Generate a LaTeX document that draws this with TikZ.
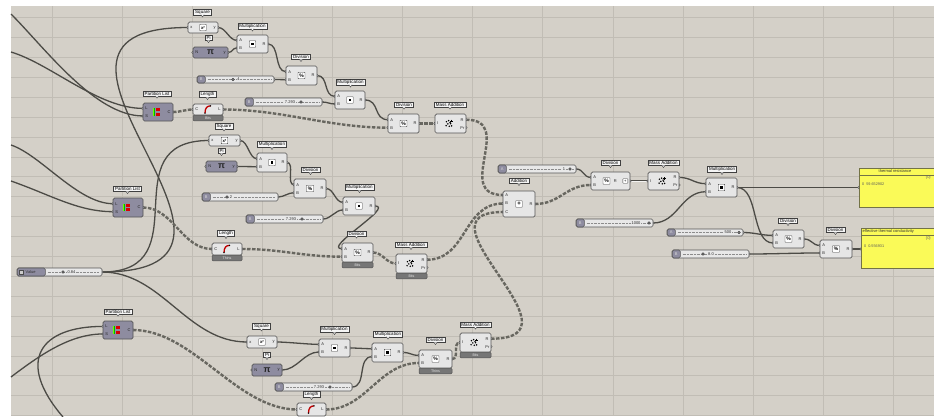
\documentclass[tikz,border=0pt]{standalone}
\usepackage{fontspec}
\setmainfont{Liberation Sans}
\usetikzlibrary{calc}
\pgfdeclarelayer{bglayer}
\pgfdeclarelayer{wirelayer}
\pgfsetlayers{bglayer,wirelayer,main}

\definecolor{bgc}{RGB}{212,208,200}
\definecolor{gridc}{RGB}{193,189,181}
\definecolor{compf}{RGB}{230,230,230}
\definecolor{compd}{RGB}{85,85,85}
\definecolor{darkf}{RGB}{142,140,160}
\definecolor{wirec}{RGB}{76,75,70}
\definecolor{lwirec}{RGB}{104,103,96}
\definecolor{barf}{RGB}{118,118,118}
\definecolor{panf}{RGB}{250,250,88}
\definecolor{pand}{RGB}{115,115,70}

\tikzset{
  comp/.style={draw=compd, fill=compf, rounded corners=1.5pt, line width=0.7pt, inner sep=0pt},
  dcomp/.style={draw=compd, fill=darkf, rounded corners=1.5pt, line width=0.7pt, inner sep=0pt},
  ptxt/.style={font=\fontsize{4}{4}\selectfont, inner sep=0pt, text=black!85},
  lbl/.style={draw=black!75, fill=white!96!black, line width=0.45pt, inner xsep=1.6pt, inner ysep=0.7pt, font=\fontsize{4.5}{4.5}\selectfont},
  lblptr/.style={draw=black!75, fill=white!96!black, line width=0.4pt},
  grip/.style={draw=compd, fill=compf, line width=0.5pt},
  icbox/.style={draw=black!75, fill=white, minimum width=6.5pt, minimum height=6.5pt, inner sep=0pt, line width=0.4pt, rounded corners=0.5pt},
  bar/.style={draw=compd, fill=barf, rounded corners=1pt, inner sep=0pt, line width=0.5pt, font=\fontsize{3.6}{3.6}\selectfont, text=white!90!black},
  slbody/.style={draw=compd, fill=white!91!black, rounded corners=1.5pt, line width=0.6pt, inner sep=0pt},
  slcap/.style={draw=compd, fill=darkf, rounded corners=1.5pt, line width=0.6pt, inner sep=0pt, minimum width=8pt, font=\fontsize{4}{4}\selectfont, text=white!85!black},
  sltrack/.style={draw=black!45, line width=0.35pt, dash pattern=on 0.7pt off 0.7pt},
  slknob/.style={circle, draw=black!80, fill=black!50, minimum size=2.8pt, inner sep=0pt, line width=0.4pt},
  wire/.style={draw=wirec, line width=1.3pt},
  lwire/.style={draw=lwirec, line width=2.4pt, dash pattern=on 3.5pt off 1.5pt},
  dwire/.style={draw=wirec, line width=0.6pt, double=white!75!bgc, double distance=0.9pt},
  gridl/.style={draw=gridc, line width=0.6pt},
  panel/.style={draw=pand, fill=panf, line width=0.7pt, inner sep=0pt},
  gh/.style={to path={.. controls +(#1,0) and +(-#1,0) .. (\tikztotarget)}},
}

% ---------- icons ----------
\newcommand\icmul[1]{\node[icbox] (#1-ic) at (#1.center) {};
  \fill[black] ($(#1.center)+(-1.4,-1.4)$) rectangle ($(#1.center)+(1.4,1.4)$);}
\newcommand\icdiv[1]{\node[icbox, minimum width=7pt, font=\fontsize{5}{5}\selectfont\bfseries] (#1-ic) at (#1.center) {\%};}
\newcommand\icdivx[1]{\node[icbox, minimum width=7pt, font=\fontsize{5}{5}\selectfont\bfseries] (#1-ic) at ($(#1.center)+(-4,0)$) {\%};
  \node[ptxt] (#1-tR2) at ($(#1.center)+(4.8,0)$) {R};
  \node[icbox, minimum width=5pt, minimum height=4.5pt, font=\fontsize{4}{4}\selectfont] (#1-x) at ($(#1.east)+(-5,0)$) {+};}
\newcommand\icsq[1]{\node[icbox, font=\fontsize{4.3}{4.3}\selectfont\bfseries] (#1-ic) at (#1.center) {x²};}
\newcommand\icpi[1]{\node[inner sep=0pt, font=\fontsize{9}{9}\selectfont\bfseries, text=black!85] (#1-ic) at (#1.center) {π};}
\newcommand\icadd[1]{\node[icbox, font=\fontsize{6}{6}\selectfont\bfseries] (#1-ic) at (#1.center) {+};}
\newcommand\icpart[1]{\coordinate (#1-ic) at ($(#1.center)+(-1,0)$);
  \fill[green!70!black] ($(#1-ic)+(-4.5,-3.8)$) rectangle ($(#1-ic)+(-1.8,3.8)$);
  \fill[green!60!yellow] ($(#1-ic)+(-4.5,-3.8)$) rectangle ($(#1-ic)+(-3.4,3.8)$);
  \fill[red!85!black] ($(#1-ic)+(-1,-3.8)$) rectangle ($(#1-ic)+(2.6,-0.6)$);
  \fill[red!85!black] ($(#1-ic)+(-1,0.6)$) rectangle ($(#1-ic)+(2.6,3.8)$);}
\newcommand\iclen[1]{\coordinate (#1-ic) at ($(#1.center)+(-0.5,0)$);
  \draw[red!75!black, line width=1.3pt] ($(#1-ic)+(-2.5,3.6)$) .. controls ($(#1-ic)+(-2.5,-2)$) and ($(#1-ic)+(0,-3.6)$) .. ($(#1-ic)+(3,-3.6)$);
  \fill[black] ($(#1-ic)+(-2.5,3.6)$) circle (0.8pt) ($(#1-ic)+(3,-3.6)$) circle (0.8pt);}
\newcommand\icmass[1]{\coordinate (#1-ic) at ($(#1.center)+(-1.5,0)$);
  \foreach \dx/\dy in {-2.6/-1.8, -0.4/-2.9, -1.2/0.4, 1.6/0.2, -2.9/2.2, 0.3/2.8, 2.6/2.4, 1.0/-0.9}{\fill[black] ($(#1-ic)+(\dx,\dy)$) circle (0.85pt);}
  \draw[black, line width=0.6pt] ($(#1-ic)+(2.6,-4)$) -- ($(#1-ic)+(2.6,-1.4)$) ($(#1-ic)+(1.3,-2.7)$) -- ($(#1-ic)+(3.9,-2.7)$);}

% ---------- building blocks ----------
\def\ghsplit#1/#2/#3\relax{\def\gnA{#1}\def\gnB{#2}\def\gnR{#3}}
\def\ghsplittwo#1/#2\relax{\def\gnI{#1}\def\gnO{#2}}
\newcommand\ghtwo[8][A/B/R]{%
  \ghsplit#1\relax
  \pgfmathsetmacro\gya{#4+0.3*(#6-#4)}%
  \pgfmathsetmacro\gyb{#4+0.72*(#6-#4)}%
  \pgfmathsetmacro\gyc{(#4+#6)/2}%
  \pgfmathsetmacro\gxc{(#3+#5)/2}%
  \coordinate (#2-A) at (#3,\gya);
  \coordinate (#2-B) at (#3,\gyb);
  \coordinate (#2-R) at (#5,\gyc);
  \filldraw[grip] (#2-A) circle (1.2pt) (#2-B) circle (1.2pt) (#2-R) circle (1.2pt);
  \node[#8, minimum width={#5-#3}, minimum height={#6-#4}] (#2) at (\gxc,\gyc) {};
  \node[ptxt, anchor=west] (#2-tA) at ($(#2-A)+(2.2,0)$) {\gnA};
  \node[ptxt, anchor=west] (#2-tB) at ($(#2-B)+(2.2,0)$) {\gnB};
  \node[ptxt, anchor=east] (#2-tR) at ($(#2-R)+(-2.2,0)$) {\gnR};
  #7{#2}%
}
\newcommand\ghone[8][x/y]{%
  \ghsplittwo#1\relax
  \pgfmathsetmacro\gyc{(#4+#6)/2}%
  \pgfmathsetmacro\gxc{(#3+#5)/2}%
  \coordinate (#2-I) at (#3,\gyc);
  \coordinate (#2-O) at (#5,\gyc);
  \filldraw[grip] (#2-I) circle (1.2pt) (#2-O) circle (1.2pt);
  \node[#8, minimum width={#5-#3}, minimum height={#6-#4}] (#2) at (\gxc,\gyc) {};
  \node[ptxt, anchor=west] (#2-tI) at ($(#2-I)+(2.2,0)$) {\gnI};
  \node[ptxt, anchor=east] (#2-tO) at ($(#2-O)+(-2.2,0)$) {\gnO};
  #7{#2}%
}
\newcommand\ghmass[5]{%
  \pgfmathsetmacro\gya{#3+0.3*(#5-#3)}%
  \pgfmathsetmacro\gyb{#3+0.72*(#5-#3)}%
  \pgfmathsetmacro\gyc{(#3+#5)/2}%
  \pgfmathsetmacro\gxc{(#2+#4)/2}%
  \coordinate (#1-I) at (#2,\gyc);
  \coordinate (#1-R) at (#4,\gya);
  \coordinate (#1-P) at (#4,\gyb);
  \filldraw[grip] (#1-I) circle (1.2pt) (#1-R) circle (1.2pt) (#1-P) circle (1.2pt);
  \node[comp, minimum width={#4-#2}, minimum height={#5-#3}] (#1) at (\gxc,\gyc) {};
  \node[ptxt, anchor=west] (#1-tI) at ($(#1-I)+(2.2,0)$) {I};
  \node[ptxt, anchor=east] (#1-tR) at ($(#1-R)+(-2.2,0)$) {R};
  \node[ptxt, anchor=east] (#1-tP) at ($(#1-P)+(-1.4,0)$) {Pr};
  \icmass{#1}%
}
\newcommand\ghbar[5]{%
  \node[bar, minimum width={#4-#2}, minimum height=5.5pt, anchor=north] (#1) at ({(#2+#4)/2},#3) {#5};
}
\newcommand\ghslider[9]{%
  \pgfmathsetmacro\gyc{(#3+#5)/2}%
  \pgfmathsetmacro\gxc{(#2+#4)/2}%
  \coordinate (#1-o) at (#4,\gyc);
  \filldraw[grip] (#1-o) circle (1.2pt);
  \node[slbody, minimum width={#4-#2}, minimum height={#5-#3}] (#1) at (\gxc,\gyc) {};
  \node[slcap, minimum height={#5-#3}, anchor=west] (#1-cap) at (#2,\gyc) {#6};
  \draw[sltrack] ($(#1-cap.east)+(2,0)$) -- ($(#1.east)+(-3,0)$);
  \node[slknob] (#1-k) at (#7,\gyc) {};
  \node[ptxt, fill=white!91!black, inner xsep=0.6pt] (#1-v) at (#8,\gyc) {#9};
}
\newcommand\ghlab[4]{%
  \node[lbl] (#1) at (#2,#3) {#4};
  \filldraw[lblptr] ($(#1.south)+(-1.6,-0.2)$) -- ($(#1.south)+(0,2)$) -- ($(#1.south)+(1.6,-0.2)$);
}

\begin{document}
\begin{tikzpicture}[x=1pt, y=-1pt]
\useasboundingbox (0,0) rectangle (934,416);
\begin{pgfonlayer}{bglayer}
  \fill[white] (0,0) rectangle (934,416);
  \fill[bgc] (11,6) rectangle (934,416);
  \foreach \i in {0,...,12} {\draw[gridl] ({52+70.1*\i},6) -- ({52+70.1*\i},416);}
  \foreach \j in {0,...,20} {\draw[gridl] (11,{17.5+19.9*\j}) -- (934,{17.5+19.9*\j});}
\end{pgfonlayer}

% ================= group 1 =================
\ghone{sq1}{188}{22}{218}{33}{\icsq}{comp}
\ghone[N/y]{pi1}{193}{47}{228}{58}{\icpi}{dcomp}
\ghtwo{m1}{237}{35}{268}{53}{\icmul}{comp}
\ghtwo{d1}{286}{66}{317}{85}{\icdiv}{comp}
\ghtwo{m2}{335}{91}{365}{109}{\icmul}{comp}
\ghtwo{d3}{388}{114}{419}{133}{\icdiv}{comp}
\ghmass{ma1}{435}{114}{466}{133}
\ghtwo[L/S/C]{pl1}{143}{103}{173}{121}{\icpart}{dcomp}
\ghone[C/L]{len1}{193}{104}{223}{115}{\iclen}{comp}
\ghbar{len1-bar}{193}{115}{223}{Bits}
\ghslider{s4}{197}{76}{274}{83}{B}{233}{238.5}{4}
\ghslider{s7a}{245}{98}{322}{106}{B}{301}{290}{7.293}
\ghlab{lab-sq1}{202.5}{12}{Square}
\ghlab{lab-pi1}{208.5}{38}{Pi}
\ghlab{lab-m1}{252.5}{26}{Multiplication}
\ghlab{lab-d1}{301}{57}{Division}
\ghlab{lab-m2}{350.5}{82}{Multiplication}
\ghlab{lab-d3}{404}{104.5}{Division}
\ghlab{lab-ma1}{450}{104.5}{Mass Addition}
\ghlab{lab-pl1}{157}{93.5}{Partition List}
\ghlab{lab-len1}{207.5}{94.5}{Length}

% ================= group 2 =================
\ghone{sq2}{209}{135}{240}{146}{\icsq}{comp}
\ghone[N/y]{pi2}{206}{161}{237}{172}{\icpi}{dcomp}
\ghtwo{m3}{257}{153}{287}{172}{\icmul}{comp}
\ghtwo{d4}{294}{179}{326}{198}{\icdiv}{comp}
\ghtwo{m4}{343}{197}{375}{215}{\icmul}{comp}
\ghone[C/L]{len2}{212}{243}{242}{255}{\iclen}{comp}
\ghbar{len2-bar}{212}{255}{242}{Thins}
\ghtwo{d5}{342}{243}{373}{262}{\icdiv}{comp}
\ghbar{d5-bar}{342}{262}{373}{Bits}
\ghmass{ma2}{396}{254}{427}{273}
\ghbar{ma2-bar}{396}{273}{427}{Bits}
\ghtwo[L/S/C]{pl2}{113}{198}{143}{217}{\icpart}{dcomp}
\ghslider{s2}{202}{193}{278}{201}{B}{227}{231}{2}
\ghslider{s7b}{246}{215}{323}{223}{B}{302}{291}{7.293}
\ghlab{lab-sq2}{224}{126}{Square}
\ghlab{lab-pi2}{221.5}{151}{Pi}
\ghlab{lab-m3}{272}{144.5}{Multiplication}
\ghlab{lab-d4}{310.5}{170}{Division}
\ghlab{lab-m4}{359.5}{187.5}{Multiplication}
\ghlab{lab-len2}{226}{233.5}{Length}
\ghlab{lab-d5}{356.5}{233.5}{Division}
\ghlab{lab-ma2}{411}{245}{Mass Addition}
\ghlab{lab-pl2}{127.5}{189}{Partition List}

% value slider
\coordinate (val-o) at (102,272);
\filldraw[grip] (val-o) circle (1.2pt);
\node[slbody, minimum width=85pt, minimum height=8pt] (val) at (59.5,272) {};
\node[slcap, minimum width=28pt, minimum height=8pt, anchor=west] (val-cap) at (17,272) {};
\node[draw=black!70, fill=white!80!black, minimum size=4pt, inner sep=0pt, line width=0.4pt] (val-ic) at (21.5,272) {};
\node[ptxt, anchor=west, text=black!80] (val-t) at (25.5,272) {Value};
\draw[sltrack] ($(val-cap.east)+(2,0)$) -- ($(val.east)+(-3,0)$);
\node[slknob] (val-k) at (63,272) {};
\node[ptxt, fill=white!91!black, inner xsep=0.6pt] (val-v) at (71.5,272) {0.84};

% ================= group 3 =================
\ghtwo[L/S/C]{pl3}{103}{321}{133}{339}{\icpart}{dcomp}
\ghone{sq3}{247}{336}{277}{348}{\icsq}{comp}
\ghone[N/y]{pi3}{252}{364}{282}{376}{\icpi}{dcomp}
\ghtwo{m5}{319}{339}{350}{357}{\icmul}{comp}
\ghtwo{m6}{372}{343}{403}{362}{\icmul}{comp}
\ghtwo{d6}{419}{350}{452}{368}{\icdiv}{comp}
\ghbar{d6-bar}{419}{368}{452}{Thins}
\ghmass{ma3}{460}{333}{491}{352}
\ghbar{ma3-bar}{460}{352}{491}{Bits}
\ghone[C/L]{len3}{297}{403}{326}{416}{\iclen}{comp}
\ghslider{s7c}{275}{383}{352}{391}{B}{330}{319}{7.293}
\ghlab{lab-pl3}{118}{311.5}{Partition List}
\ghlab{lab-sq3}{261.5}{326}{Square}
\ghlab{lab-pi3}{267}{355}{Pi}
\ghlab{lab-m5}{334.5}{329.5}{Multiplication}
\ghlab{lab-m6}{388}{334}{Multiplication}
\ghlab{lab-d6}{435.5}{340}{Division}
\ghlab{lab-ma3}{475.5}{324.5}{Mass Addition}
\ghlab{lab-len3}{311.5}{394.5}{Length}

% ================= right part =================
\ghslider{s1}{498}{165}{576}{173}{A}{570}{564}{1}
\coordinate (add-A) at (503,195);
\coordinate (add-B) at (503,203.5);
\coordinate (add-C) at (503,212);
\coordinate (add-R) at (535,204);
\filldraw[grip] (add-A) circle (1.2pt) (add-B) circle (1.2pt) (add-C) circle (1.2pt) (add-R) circle (1.2pt);
\node[comp, minimum width=32pt, minimum height=26pt] (add) at (519,204) {};
\node[ptxt, anchor=west] (add-tA) at ($(add-A)+(2.2,0)$) {A};
\node[ptxt, anchor=west] (add-tB) at ($(add-B)+(2.2,0)$) {B};
\node[ptxt, anchor=west] (add-tC) at ($(add-C)+(2.2,0)$) {C};
\node[ptxt, anchor=east] (add-tR) at ($(add-R)+(-2.2,0)$) {R};
\icadd{add}
\ghtwo[A/B/]{d7}{591}{172}{630}{190}{\icdivx}{comp}
\ghmass{ma4}{648}{172}{679}{190}
\ghtwo{m7}{706}{178}{737}{197}{\icmul}{comp}
\ghslider{s1000}{576}{219}{653}{227}{B}{649}{636}{1000}
\ghslider{s500}{667}{229}{743}{236}{A}{739}{728}{500}
\ghslider{s8}{672}{250}{749}{258}{B}{703}{711}{8.0}
\ghtwo{d8}{773}{230}{804}{248}{\icdiv}{comp}
\ghtwo{d9}{820}{240}{852}{258}{\icdiv}{comp}
\ghlab{lab-add}{519}{181}{Addition}
\ghlab{lab-d7}{610.5}{163}{Division}
\ghlab{lab-ma4}{663.5}{163}{Mass Addition}
\ghlab{lab-m7}{722}{169.5}{Multiplication}
\ghlab{lab-d8}{788}{221}{Division}
\ghlab{lab-d9}{835.5}{230}{Division}

% panels
\coordinate (p1-in) at (859,187.5);
\filldraw[grip] (p1-in) circle (1.2pt);
\node[panel, minimum width=82pt, minimum height=39pt, anchor=north west] (p1) at (859,168) {};
\node[panel, minimum width=82pt, minimum height=7pt, anchor=north west] (p1-h) at (859,168) {};
\node[ptxt, text=black!80] (p1-t) at (895,171.5) {thermal resistance};
\node[ptxt, text=black!60, anchor=east] (p1-p) at (931,177.5) {\{0\}};
\node[ptxt, text=black!65, anchor=west, font=\fontsize{3.8}{3.8}\selectfont] (p1-v) at (862,184) {0\hspace{2pt}59.652902};

\coordinate (p2-in) at (861,249);
\filldraw[grip] (p2-in) circle (1.2pt);
\node[panel, minimum width=82pt, minimum height=40pt, anchor=north west] (p2) at (861,228) {};
\node[panel, minimum width=82pt, minimum height=7pt, anchor=north west] (p2-h) at (861,228) {};
\node[ptxt, text=black!80, anchor=west] (p2-t) at (862.5,231.5) {effective thermal conductivity};
\node[ptxt, text=black!60, anchor=east] (p2-p) at (931,238) {\{0\}};
\node[ptxt, text=black!65, anchor=west, font=\fontsize{3.8}{3.8}\selectfont] (p2-v) at (864,246) {0\hspace{2pt}0.556931};

% off-canvas wire ends
\coordinate (e1) at (11,14);
\coordinate (e2) at (11,52);
\coordinate (e3) at (11,145);
\coordinate (e4) at (11,181);
\coordinate (e5) at (63,417);
\coordinate (e6) at (11,377);

% ================= wires =================
\begin{pgfonlayer}{wirelayer}
\draw[wire] (e1) .. controls +(34,34) and +(-48,0) .. (pl1-B);
\draw[wire] (e2) .. controls +(40,12) and +(-45,0) .. (pl1-A);
\draw[wire] (e3) .. controls +(30,10) and +(-35,0) .. (pl2-A);
\draw[wire] (e4) .. controls +(40,14) and +(-35,0) .. (pl2-B);
\draw[wire] (e5) .. controls +(-48,-56) and +(-63,0) .. (pl3-A);
\draw[wire] (e6) .. controls +(29,-22) and +(-33,0) .. (pl3-B);
\draw[wire] (val-o) to[gh=208] (sq1-I);
\draw[wire] (val-o) to[gh=100] (sq2-I);
\draw[wire] (val-o) to[gh=60] (sq3-I);
% group 1
\draw[wire] (sq1-O) to[gh=8] (m1-A);
\draw[wire] (pi1-O) to[gh=5] (m1-B);
\draw[wire] (m1-R) to[gh=12] (d1-A);
\draw[wire] (s4-o) to[gh=6] (d1-B);
\draw[wire] (d1-R) to[gh=12] (m2-A);
\draw[wire] (s7a-o) to[gh=6] (m2-B);
\draw[wire] (m2-R) to[gh=15] (d3-A);
\draw[lwire] (pl1-R) to[gh=8] (len1-I);
\draw[lwire] (len1-O) to[gh=60] (d3-B);
\draw[lwire] (d3-R) to[gh=6] (ma1-I);
\draw[lwire] (ma1-R) to[gh=50] (add-A);
% group 2
\draw[wire] (sq2-O) to[gh=8] (m3-A);
\draw[wire] (pi2-O) to[gh=6] (m3-B);
\draw[wire] (m3-R) to[gh=8] (d4-A);
\draw[wire] (s2-o) to[gh=6] (d4-B);
\draw[wire] (d4-R) to[gh=8] (m4-A);
\draw[wire] (s7b-o) to[gh=8] (m4-B);
\draw[wire] (m4-R) to[gh=20] (d5-A);
\draw[lwire] (pl2-R) to[gh=30] (len2-I);
\draw[lwire] (len2-O) to[gh=40] (d5-B);
\draw[lwire] (d5-R) to[gh=10] (ma2-I);
\draw[lwire] (ma2-R) to[gh=40] (add-B);
% group 3
\draw[lwire] (pl3-R) to[gh=60] (len3-I);
\draw[wire] (sq3-O) to[gh=10] (m5-A);
\draw[wire] (pi3-O) to[gh=15] (m5-B);
\draw[wire] (m5-R) to[gh=8] (m6-A);
\draw[wire] (s7c-o) to[gh=15] (m6-B);
\draw[wire] (m6-R) to[gh=8] (d6-A);
\draw[lwire] (len3-O) to[gh=40] (d6-B);
\draw[lwire] (d6-R) to[gh=8] (ma3-I);
\draw[lwire] (ma3-R) .. controls +(100,0) and +(-95,0) .. (add-C);
% right part
\draw[wire] (s1-o) to[gh=8] (d7-A);
\draw[lwire] (add-R) to[gh=25] (d7-B);
\draw[dwire] (d7-R) -- (ma4-I);
\draw[wire] (ma4-R) to[gh=12] (m7-A);
\draw[wire] (s1000-o) to[gh=25] (m7-B);
\draw[wire] (m7-R) -- (p1-in);
\draw[wire] (m7-R) to[gh=22] (d8-B);
\draw[wire] (s500-o) to[gh=12] (d8-A);
\draw[wire] (d8-R) to[gh=8] (d9-A);
\draw[wire] (s8-o) to[gh=25] (d9-B);
\draw[wire] (d9-R) -- (p2-in);
\end{pgfonlayer}
\end{tikzpicture}
\end{document}
